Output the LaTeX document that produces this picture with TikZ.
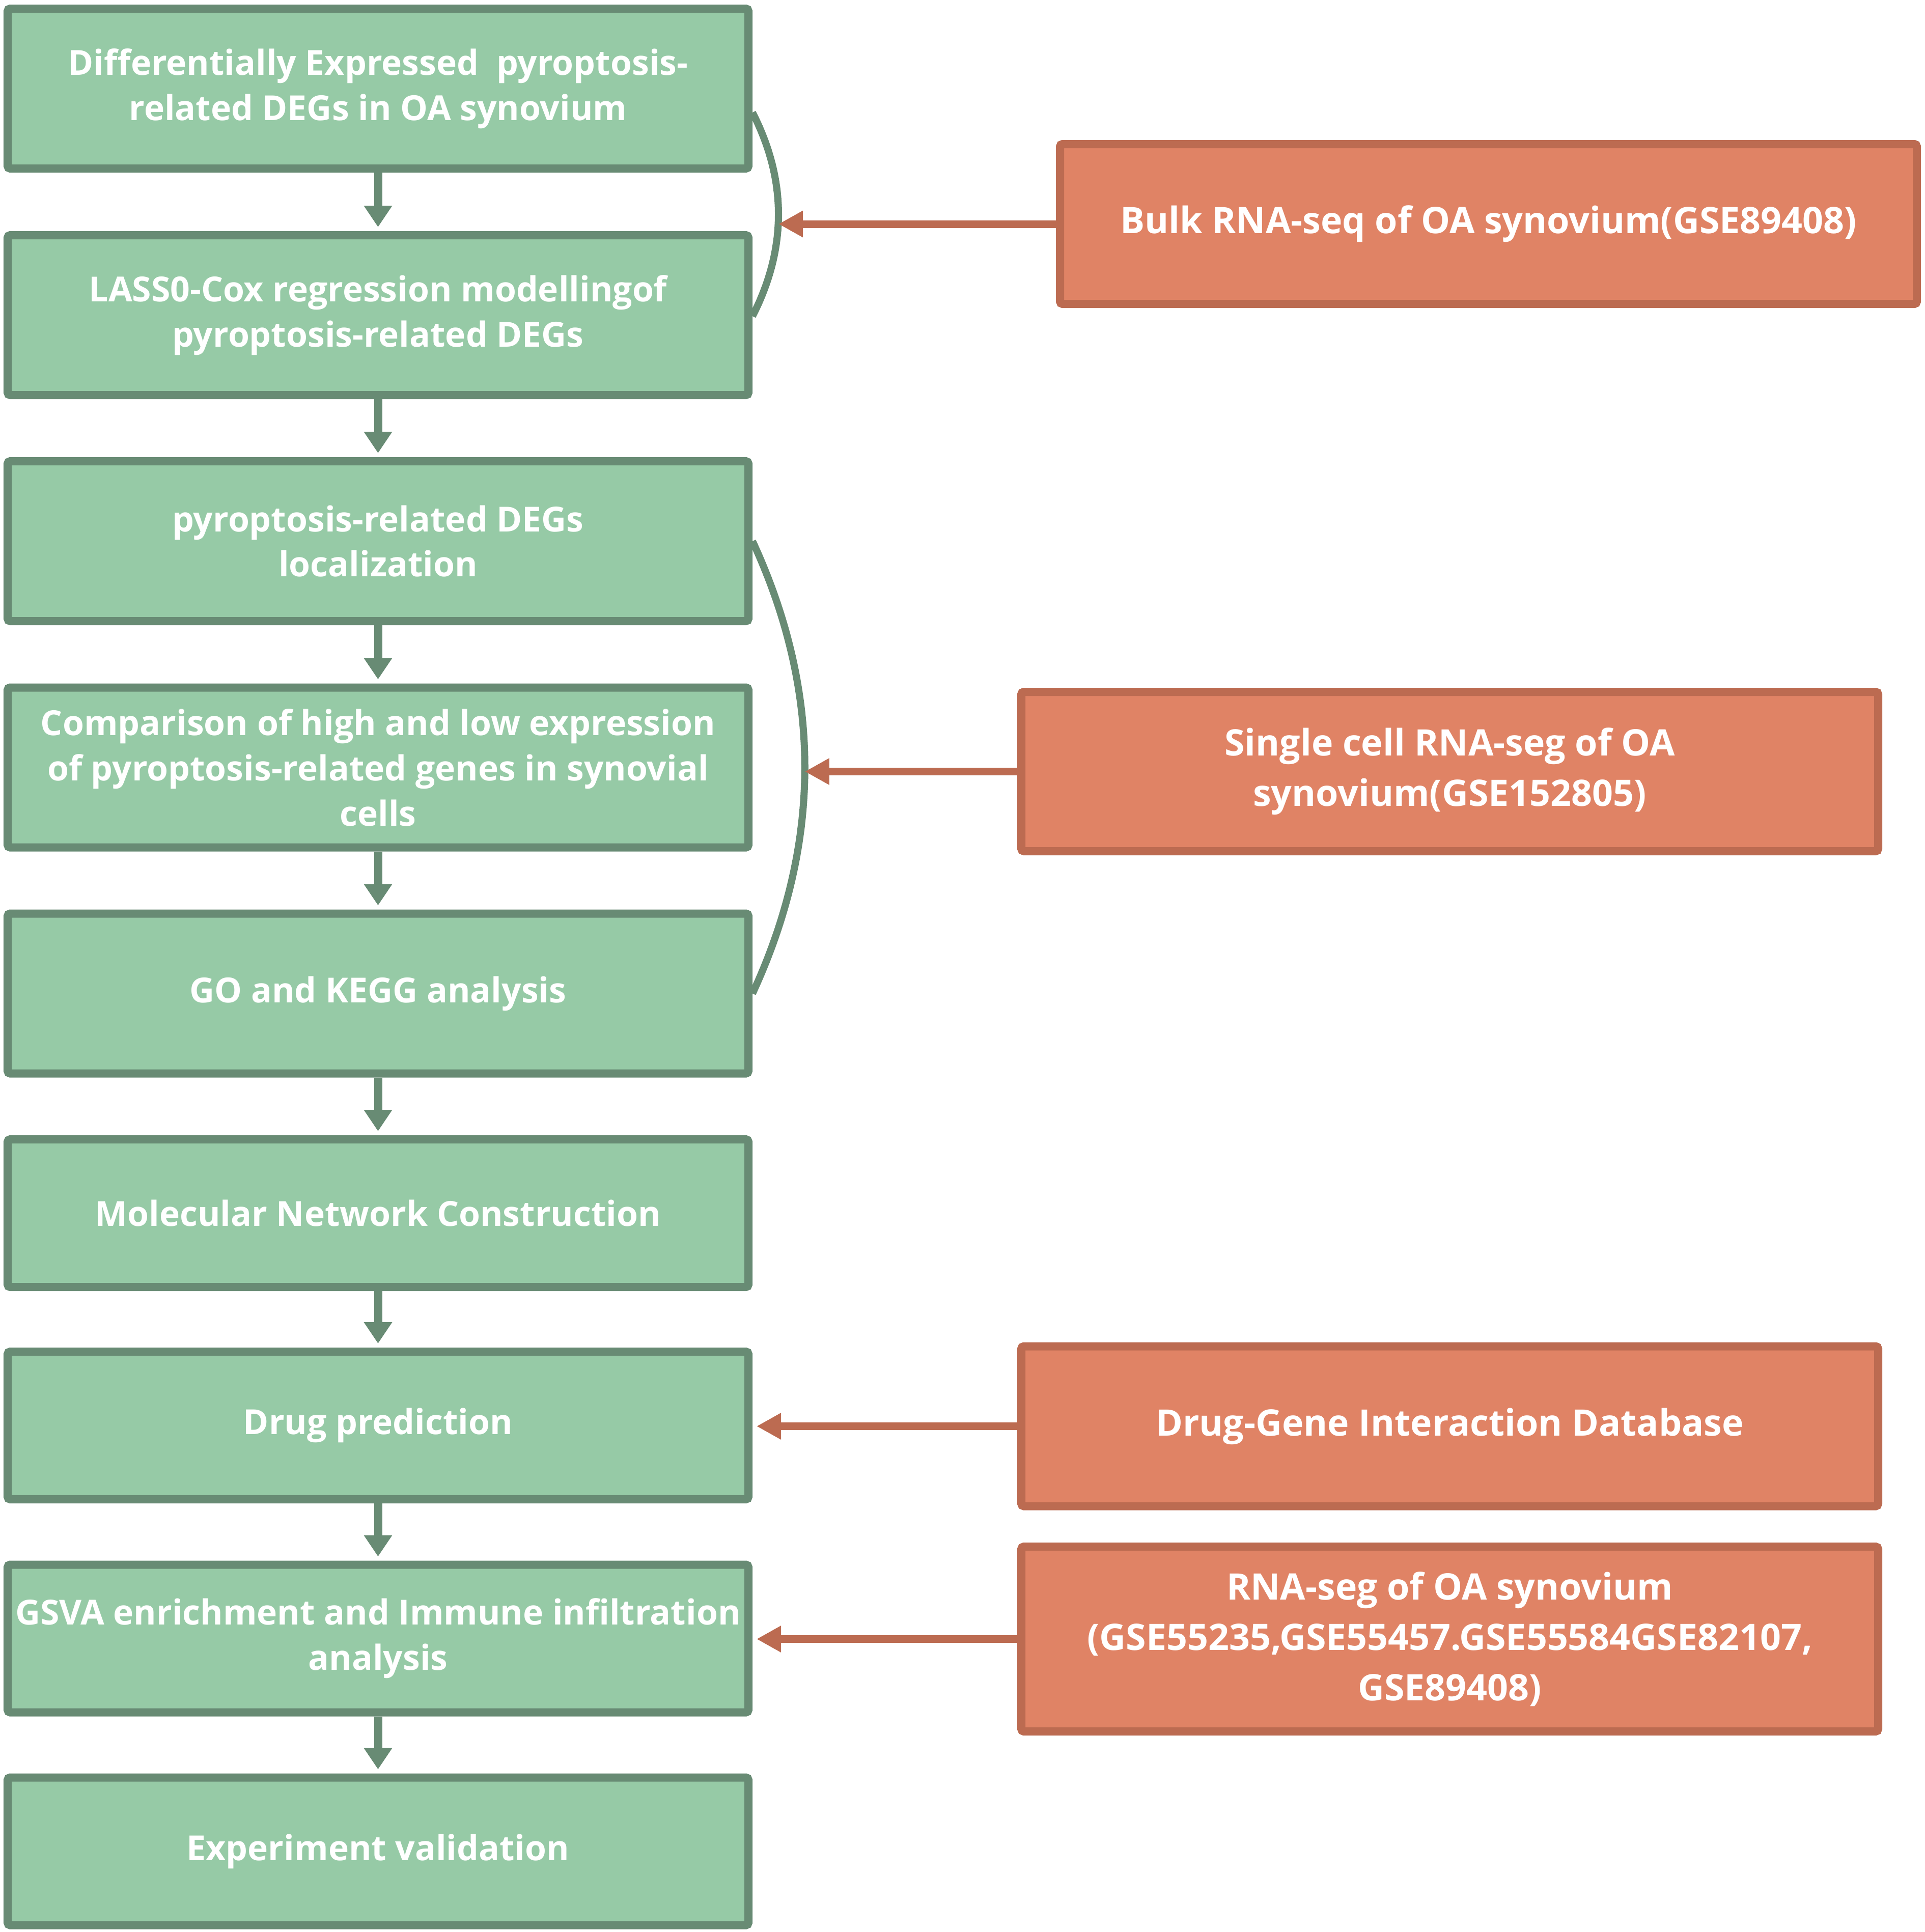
\documentclass[tikz,border=0pt]{standalone}
\usepackage{fontspec}
\setmainfont{Open Sans}
\usepackage{tikz}
\usetikzlibrary{arrows.meta}
\definecolor{greenfill}{RGB}{150,202,166}
\definecolor{greenline}{RGB}{104,139,116}
\definecolor{orangefill}{RGB}{224,131,101}
\definecolor{orangeline}{RGB}{188,107,81}
\newcommand\flowfont{\bfseries\fontsize{19.3}{25.3}\selectfont}
\newcommand\datafont{\bfseries\fontsize{20.4}{28.2}\selectfont}
\tikzstyle{greenbox}    = [shape=rectangle,draw=greenline,fill=greenfill,line width=0.16cm,rounded corners=0.05cm,minimum width=14.55cm,minimum height=3.14cm,inner xsep=0.05cm,align=center,text=white,font=\flowfont]
\tikzstyle{lowbox}      = [greenbox,minimum height=2.90cm]
\tikzstyle{orangebox}   = [shape=rectangle,draw=orangeline,fill=orangefill,line width=0.16cm,rounded corners=0.05cm,minimum width=16.83cm,minimum height=3.14cm,inner xsep=0.05cm,align=center,text=white,font=\datafont]
\tikzstyle{greenarrow}  = [draw=greenline,line width=0.16cm,-{Triangle[length=0.42cm,width=0.53cm]},shorten >=0.08cm]
\tikzstyle{orangearrow} = [draw=orangeline,line width=0.15cm,-{Triangle[length=0.48cm,width=0.49cm]}]
\tikzstyle{bundle}      = [draw=greenline,line width=0.14cm]

\begin{document}
\begin{tikzpicture}
  \useasboundingbox (0,0) rectangle (37.8,-37.95);

  % Analysis steps
  \node[greenbox] (degs) at (7.425,-1.74) {Differentially Expressed\ \ pyroptosis-\\related DEGs in OA synovium};
  \node[greenbox] (lasso) at (7.425,-6.19) {LASS0-Cox regression modellingof\\pyroptosis-related DEGs};
  \node[greenbox] (local) at (7.425,-10.63) {pyroptosis-related DEGs\\localization};
  \node[greenbox] (compare) at (7.425,-15.075) {Comparison of high and low expression\\of pyroptosis-related genes in synovial\\cells};
  \node[greenbox] (gokegg) at (7.425,-19.515) {GO and KEGG analysis};
  \node[lowbox] (network) at (7.425,-23.83) {Molecular Network Construction};
  \node[lowbox] (drugpred) at (7.425,-28.00) {Drug prediction};
  \node[lowbox] (gsva) at (7.425,-32.185) {GSVA enrichment and Immune infiltration\\analysis};
  \node[lowbox] (validate) at (7.425,-36.365) {Experiment validation};

  % Data sources
  \node[orangebox] (bulk) at (29.235,-4.40) {Bulk RNA-seq of OA synovium(GSE89408)};
  \node[orangebox,minimum height=3.13cm] (single) at (28.475,-15.155) {Single cell RNA-seg of OA\\synovium(GSE152805)};
  \node[orangebox] (dgidb) at (28.475,-28.015) {Drug-Gene Interaction Database};
  \node[orangebox,minimum height=3.63cm] (rnaseq) at (28.475,-32.195) {RNA-seg of OA synovium\\(GSE55235,GSE55457.GSE55584GSE82107,\\GSE89408)};

  % Main flow
  \foreach \a/\b in {degs/lasso,lasso/local,local/compare,compare/gokegg,gokegg/network,network/drugpred,drugpred/gsva,gsva/validate}
    \draw[greenarrow] (\a.south) -- (\b.north);

  % Brackets
  \draw[bundle] ([yshift=-0.47cm]degs.east) .. controls +(0.68,-1.33) and +(0.68,1.33) .. ([yshift=-0.02cm]lasso.east) coordinate[pos=0.5] (bulkhub);
  \draw[bundle] (local.east) .. controls +(1.37,-2.96) and +(1.37,2.96) .. (gokegg.east) coordinate[pos=0.5] (singlehub);

  % Inputs
  \draw[orangearrow] (bulk.west) -- (bulk.west -| bulkhub);
  \draw[orangearrow] (single.west) -- (single.west -| singlehub);
  \draw[orangearrow,shorten >=0.08cm] (dgidb.west) -- (dgidb.west -| drugpred.east);
  \draw[orangearrow,shorten >=0.08cm] (rnaseq.west) -- (rnaseq.west -| gsva.east);
\end{tikzpicture}
\end{document}
